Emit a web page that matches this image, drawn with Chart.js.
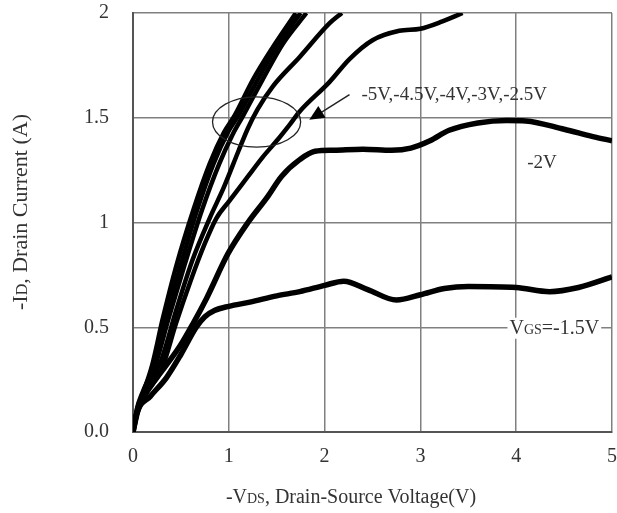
<!DOCTYPE html>
<html lang="en">
<head>
<meta charset="UTF-8">
<title>-ID vs -VDS output characteristics</title>
<script src="https://cdn.jsdelivr.net/npm/chart.js"></script>
<style>
  body { margin: 0; background: #fff; }
  #wrap { width: 617px; height: 513px; }
</style>
</head>
<body>
<div id="wrap"><canvas id="outputChart"></canvas></div>
<script>
// axis ticks
const xTicks = [0, 1, 2, 3, 4, 5];
const yTicks = [0, 0.5, 1, 1.5, 2];
const yTickLabels = ['0.0', '0.5', '1', '1.5', '2'];

// [-VDS (V), -ID (A)], one list per gate voltage
const vgsM5 = [[0,0],[0.04,0.1],[0.1,0.18],[0.2,0.32],[0.31,0.54],[0.45,0.79],[0.63,1.06],[0.8,1.28],[0.95,1.43],[1.06,1.51],[1.25,1.68],[1.45,1.83],[1.7,2.0]];
const vgsM45 = [[0,0],[0.04,0.11],[0.1,0.19],[0.22,0.32],[0.34,0.54],[0.5,0.8],[0.67,1.06],[0.84,1.28],[0.99,1.43],[1.1,1.51],[1.3,1.68],[1.5,1.84],[1.75,2.0]];
const vgsM4 = [[0,0],[0.05,0.12],[0.12,0.2],[0.24,0.33],[0.37,0.54],[0.54,0.8],[0.72,1.06],[0.9,1.28],[1.04,1.42],[1.15,1.51],[1.35,1.68],[1.56,1.85],[1.81,2.0]];
const vgsM3 = [[0,0],[0.05,0.11],[0.14,0.2],[0.3,0.35],[0.45,0.58],[0.62,0.82],[0.8,1.02],[0.95,1.17],[1.1,1.34],[1.2,1.45],[1.3,1.54],[1.46,1.65],[1.74,1.79],[2.05,1.95],[2.18,2.0]];
const vgsM25 = [[0,0],[0.05,0.1],[0.15,0.19],[0.3,0.3],[0.45,0.52],[0.6,0.72],[0.75,0.9],[0.87,1.02],[1.0,1.1],[1.2,1.22],[1.35,1.31],[1.5,1.39],[1.64,1.47],[1.74,1.53],[2.05,1.67],[2.26,1.78],[2.5,1.87],[2.78,1.915],[3.0,1.925],[3.23,1.96],[3.44,2.0]];
const vgsM2 = [[0,0],[0.05,0.1],[0.12,0.18],[0.25,0.26],[0.49,0.41],[0.63,0.52],[0.77,0.64],[0.99,0.85],[1.2,1.0],[1.4,1.12],[1.55,1.22],[1.74,1.3],[1.9,1.34],[2.1,1.345],[2.4,1.35],[2.7,1.345],[2.9,1.355],[3.1,1.39],[3.3,1.44],[3.6,1.475],[3.9,1.487],[4.1,1.485],[4.5,1.445],[4.8,1.41],[5.0,1.39]];
const vgsM15 = [[0,0],[0.04,0.09],[0.18,0.17],[0.35,0.26],[0.5,0.37],[0.66,0.5],[0.75,0.55],[0.85,0.58],[1.0,0.6],[1.22,0.62],[1.5,0.65],[1.74,0.67],[2.0,0.7],[2.2,0.72],[2.45,0.68],[2.75,0.63],[3.0,0.655],[3.25,0.685],[3.5,0.695],[4.0,0.69],[4.35,0.67],[4.65,0.69],[5.0,0.74]];

const seriesNames = ['-5V', '-4.5V', '-4V', '-3V', '-2.5V', '-2V', '-1.5V'];
const seriesData = [vgsM5, vgsM45, vgsM4, vgsM3, vgsM25, vgsM2, vgsM15];

const SERIF = '"Liberation Serif", "Times New Roman", serif';
const TEXT = '#333';

// draw a run of text pieces [string, size], each with its own font size
function drawRich(ctx, parts, x, y, align) {
    let total = 0;
    parts.forEach(p => {
        ctx.font = p[1] + 'px ' + SERIF;
        p.w = ctx.measureText(p[0]).width;
        total += p.w;
    });
    let cx = align === 'center' ? x - total / 2 : x;
    parts.forEach(p => {
        ctx.font = p[1] + 'px ' + SERIF;
        ctx.fillText(p[0], cx, y);
        cx += p.w;
    });
    return total;
}

const annotations = {
    id: 'annotations',
    afterDatasetsDraw(chart) {
        const ctx = chart.ctx;
        const xs = chart.scales.x, ys = chart.scales.y;
        ctx.save();
        ctx.fillStyle = TEXT;
        ctx.textBaseline = 'alphabetic';

        // ellipse round the crowded curves
        const ex = xs.getPixelForValue(1.29), ey = ys.getPixelForValue(1.48);
        const rx = xs.getPixelForValue(1.75) - ex, ry = ey - ys.getPixelForValue(1.6);
        ctx.strokeStyle = '#222';
        ctx.lineWidth = 1.3;
        ctx.beginPath();
        ctx.ellipse(ex, ey, rx, ry, 0, 0, Math.PI * 2);
        ctx.stroke();

        // arrow from the label to the ellipse
        const tx = xs.getPixelForValue(2.26), ty = ys.getPixelForValue(1.61);
        const hx = xs.getPixelForValue(1.84), hy = ys.getPixelForValue(1.49);
        const ang = Math.atan2(hy - ty, hx - tx);
        ctx.lineWidth = 1.5;
        ctx.beginPath();
        ctx.moveTo(tx, ty);
        ctx.lineTo(hx - 10 * Math.cos(ang), hy - 10 * Math.sin(ang));
        ctx.stroke();
        ctx.fillStyle = '#000';
        ctx.beginPath();
        ctx.moveTo(hx, hy);
        ctx.lineTo(hx - 15 * Math.cos(ang) + 7 * Math.sin(ang), hy - 15 * Math.sin(ang) - 7 * Math.cos(ang));
        ctx.lineTo(hx - 15 * Math.cos(ang) - 7 * Math.sin(ang), hy - 15 * Math.sin(ang) + 7 * Math.cos(ang));
        ctx.closePath();
        ctx.fill();

        ctx.fillStyle = TEXT;
        drawRich(ctx, [['-5V,-4.5V,-4V,-3V,-2.5V', 19]], xs.getPixelForValue(2.385), ys.getPixelForValue(1.584), 'left');
        drawRich(ctx, [['-2V', 19]], xs.getPixelForValue(4.27), ys.getPixelForValue(1.258), 'center');

        // VGS label sits on a white patch over the grid line
        const lx = xs.getPixelForValue(3.93), ly = ys.getPixelForValue(0.469);
        const parts = [['V', 20], ['GS', 14], ['=-1.5V', 20]];
        let w = 0;
        parts.forEach(p => { ctx.font = p[1] + 'px ' + SERIF; w += ctx.measureText(p[0]).width; });
        ctx.fillStyle = '#fff';
        ctx.fillRect(lx - 2, ly - 16, w + 4, 21);
        ctx.fillStyle = TEXT;
        drawRich(ctx, parts, lx, ly, 'left');

        // axis titles
        drawRich(ctx, [['-V', 20], ['DS', 14], [', Drain-Source Voltage(V)', 20]], 351, 503, 'center');
        ctx.translate(20, 212);
        ctx.rotate(-Math.PI / 2);
        drawRich(ctx, [['-I', 22], ['D', 16], [', Drain Current (A)', 22]], 0, 7, 'center');
        ctx.restore();
    }
};

const ctx = document.getElementById('outputChart').getContext('2d');

const outputChart = new Chart(ctx, {
    type: 'scatter',
    data: {
        datasets: seriesData.map((pts, i) => ({
            label: seriesNames[i],
            data: pts.map(p => ({ x: p[0], y: p[1] })),
            showLine: true,
            borderColor: '#000',
            borderWidth: i >= 5 ? 5.5 : 4.5,
            pointRadius: 0,
            cubicInterpolationMode: 'monotone',
            fill: false
        }))
    },
    options: {
        responsive: true,
        maintainAspectRatio: false,
        animation: false,
        layout: { padding: { top: 13, right: 5, left: 0, bottom: 0 } },
        plugins: {
            legend: { display: false },
            tooltip: { enabled: false }
        },
        scales: {
            x: {
                type: 'linear',
                min: 0,
                max: 5,
                afterBuildTicks: s => { s.ticks = xTicks.map(v => ({ value: v })); },
                afterFit: s => {
                    s.height = 81;
                    s.paddingLeft = 0; s.paddingRight = 0;
                },
                ticks: {
                    color: TEXT,
                    padding: 13,
                    font: { family: SERIF, size: 20 },
                    maxRotation: 0
                },
                grid: { color: '#808080', lineWidth: 1.5, drawTicks: false },
                border: { color: '#555', width: 2 }
            },
            y: {
                type: 'linear',
                min: 0,
                max: 2,
                afterBuildTicks: s => { s.ticks = yTicks.map(v => ({ value: v })); },
                afterFit: s => {
                    s.width = 133;
                    s.paddingTop = 0; s.paddingBottom = 0;
                },
                ticks: {
                    color: TEXT,
                    padding: 24,
                    font: { family: SERIF, size: 20 },
                    callback: v => yTickLabels[yTicks.indexOf(v)]
                },
                grid: { color: '#808080', lineWidth: 1.5, drawTicks: false },
                border: { color: '#555', width: 2 }
            }
        }
    },
    plugins: [annotations]
});
</script>
</body>
</html>
